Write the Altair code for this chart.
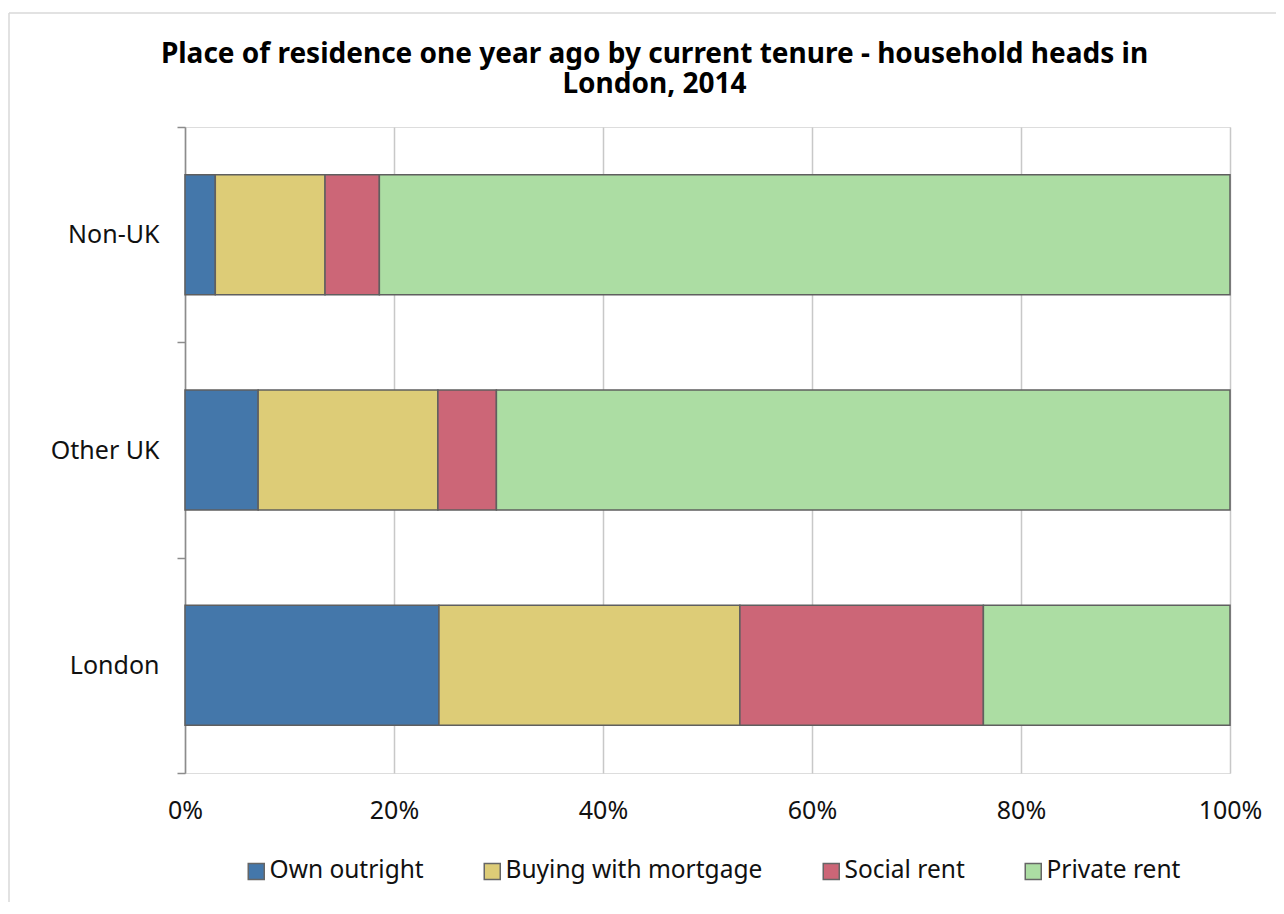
import altair as alt
import pandas as pd

# ---- data ----
places = ["Non-UK", "Other UK", "London"]
tenures = ["Own outright", "Buying with mortgage", "Social rent", "Private rent"]
own_outright = [2.9, 7.0, 24.3]
buying_mortgage = [10.5, 17.2, 28.8]
social_rent = [5.2, 5.6, 23.3]
private_rent = [81.4, 70.2, 23.6]
x_ticks = [0, 0.2, 0.4, 0.6, 0.8, 1.0]
colors = ["#4477AA", "#DDCC77", "#CC6677", "#ACDDA3"]
title_lines = ["Place of residence one year ago by current tenure - household heads in",
               "London, 2014"]

series = [own_outright, buying_mortgage, social_rent, private_rent]
rows = []
for ti, (t, vals) in enumerate(zip(tenures, series)):
    for p, v in zip(places, vals):
        rows.append({"place": p, "tenure": t, "value": v, "order": ti})
df = pd.DataFrame(rows)

FONT = "Noto Sans"
W, H = 1045, 646
PAD = {"left": 177, "top": 119, "right": 46, "bottom": 129}

bars = alt.Chart(df).mark_bar(stroke="#5f5f5f", strokeWidth=1.5,
                              height=alt.RelativeBandSize(0.557)).encode(
    y=alt.Y("place:N", sort=places,
            scale=alt.Scale(paddingInner=0, paddingOuter=0),
            axis=alt.Axis(title=None, tickBand="extent", tickSize=8,
                          domainColor="#8c8c8c", tickColor="#8c8c8c",
                          domainWidth=1.5, tickWidth=1.5,
                          labelFontSize=25, labelFont=FONT, labelColor="#111111",
                          labelPadding=18, grid=False)),
    x=alt.X("value:Q", stack="normalize",
            scale=alt.Scale(domain=[0, 1]),
            axis=alt.Axis(title=None, format="%", values=x_ticks, domain=False,
                          ticks=False, grid=True, gridColor="#c8c8c8", gridWidth=1.5,
                          labelFontSize=25, labelFont=FONT, labelColor="#111111",
                          labelPadding=25, labelFlush=False)),
    color=alt.Color("tenure:N", sort=tenures,
                    scale=alt.Scale(domain=tenures, range=colors),
                    legend=alt.Legend(title=None, orient="none", direction="horizontal",
                                      legendX=59, legendY=732,
                                      symbolType="square", symbolSize=256,
                                      symbolStrokeColor="#666666", symbolStrokeWidth=1.5,
                                      labelFontSize=24.5, labelFont=FONT, labelColor="#111111",
                                      labelOffset=1, columnPadding=56, labelLimit=400)),
    order=alt.Order("order:Q", sort="ascending"),
)

frame_df = pd.DataFrame({"k": [0]})
frame_v = alt.Chart(frame_df).mark_rule(color="#d9d9d9", strokeWidth=1.5).encode(
    x=alt.value(-176), y=alt.value(-114), y2=alt.value(H + PAD["bottom"]))
frame_h = alt.Chart(frame_df).mark_rule(color="#d9d9d9", strokeWidth=1.5).encode(
    y=alt.value(-114), x=alt.value(-176), x2=alt.value(W + PAD["right"]))

chart = alt.layer(frame_v, frame_h, bars).properties(
    width=W, height=H,
    padding=PAD,
    autosize=alt.AutoSizeParams(type="none"),
    title=alt.TitleParams(text=title_lines, fontSize=28, font=FONT, fontWeight="bold",
                          color="#000000", anchor="middle", frame="group", dx=-53,
                          offset=0, dy=87, lineHeight=30),
).configure_view(stroke=None).configure(background="white")

chart.save("out.html", embed_options={"renderer": "svg", "actions": False})
